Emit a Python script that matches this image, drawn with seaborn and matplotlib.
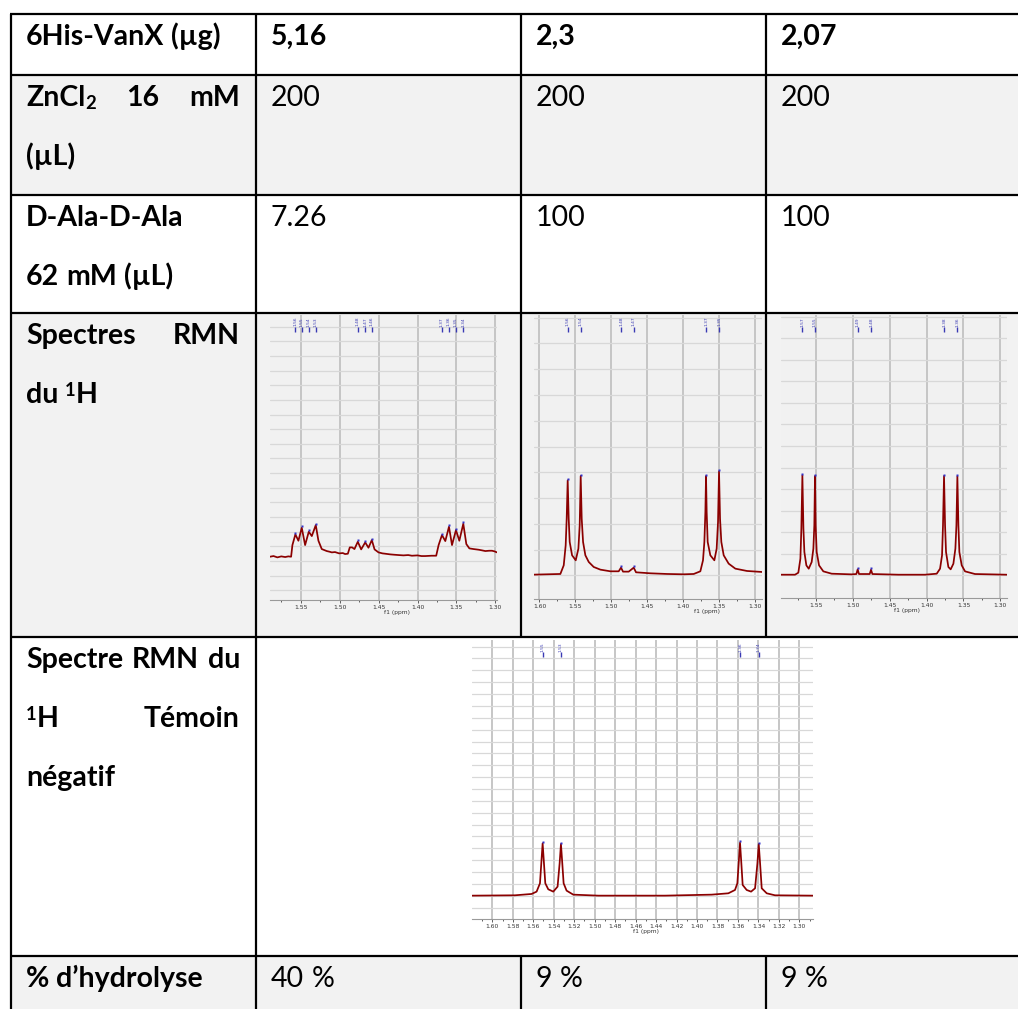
import re
import numpy as np
import matplotlib
matplotlib.use("Agg")
import matplotlib.pyplot as plt
import matplotlib.transforms as mtransforms
from matplotlib.ticker import MultipleLocator
import seaborn as sns

# ---- table contents ----
row_titles = [
    [("6His-VanX (µg)", False)],
    [("ZnCl_2 16 mM", True), ("(µL)", False)],
    [("D-Ala-D-Ala", False), ("62 mM (µL)", False)],
    [("Spectres RMN", True), ("du ^1H", False)],
    [("Spectre RMN du", True), ("^1H Témoin", True), ("négatif", False)],
    [("% d’hydrolyse", False)],
]
vanx_ug = ["5,16", "2,3", "2,07"]
zncl2_ul = ["200", "200", "200"]
dala_ul = ["7.26", "100", "100"]
hydrolyse = ["40 %", "9 %", "9 %"]

# ---- 1H NMR spectra (ppm, intensity in arbitrary units) ----
s1_ppm = [1.5895, 1.5850, 1.5800, 1.5750, 1.5700, 1.5660, 1.5624, 1.5607, 1.5569, 1.5530,
          1.5487, 1.5444, 1.5397, 1.5358, 1.5307, 1.5273, 1.5230, 1.5166, 1.5130, 1.5101,
          1.5060, 1.5007, 1.4960, 1.4930, 1.4895, 1.4870, 1.4840, 1.4810, 1.4767, 1.4724,
          1.4672, 1.4630, 1.4587, 1.4552, 1.4501, 1.4450, 1.4415, 1.4350, 1.4300, 1.4244,
          1.4180, 1.4120, 1.4072, 1.4000, 1.3950, 1.3901, 1.3820, 1.3760, 1.3729, 1.3686,
          1.3643, 1.3596, 1.3557, 1.3506, 1.3463, 1.3412, 1.3373, 1.3334, 1.3280, 1.3214,
          1.3170, 1.3129, 1.3080, 1.3043, 1.3010, 1.2979]
s1_int = [130, 132, 128, 131, 129, 131, 130, 165, 197, 178,
          217, 165, 205, 192, 225, 178, 153, 147, 145, 143,
          144, 140, 141, 138, 139, 158, 158, 153, 175, 152,
          173, 157, 180, 152, 143, 140, 139, 137, 136, 135,
          134, 135, 133, 134, 132, 132, 133, 133, 165, 195,
          177, 220, 165, 210, 178, 229, 168, 155, 153, 151,
          149, 147, 148, 148, 146, 143]
s1_pk_ppm = [1.5569, 1.5487, 1.5397, 1.5307, 1.4767, 1.4672, 1.4587, 1.3686, 1.3596, 1.3506, 1.3412]
s1_pk_int = [197, 217, 205, 225, 175, 173, 180, 195, 220, 210, 229]
s1_pk_lbl = ["1.56", "1.55", "1.54", "1.53", "1.48", "1.47", "1.46", "1.37", "1.36", "1.35", "1.34"]
s1_ticks = [1.55, 1.50, 1.45, 1.40, 1.35, 1.30]

s2_ppm = [1.6080, 1.5894, 1.5709, 1.5662, 1.5635, 1.5621, 1.5607, 1.5593, 1.5579, 1.5546,
          1.5495, 1.5458, 1.5440, 1.5426, 1.5412, 1.5393, 1.5361, 1.5314, 1.5245, 1.5152,
          1.5013, 1.4897, 1.4865, 1.4837, 1.4758, 1.4688, 1.4656, 1.4456, 1.4224, 1.3993,
          1.3853, 1.3761, 1.3724, 1.3705, 1.3691, 1.3682, 1.3673, 1.3659, 1.3622, 1.3566,
          1.3534, 1.3515, 1.3501, 1.3487, 1.3469, 1.3436, 1.3367, 1.3274, 1.3112, 1.2903]
s2_int = [74, 75, 76, 102, 162, 242, 357, 242, 172, 132,
          117, 152, 222, 370, 242, 172, 132, 112, 97, 89,
          84, 84, 95, 83, 83, 95, 81, 78, 76, 75,
          76, 84, 117, 172, 262, 370, 262, 172, 132, 117,
          152, 232, 384, 242, 172, 132, 107, 92, 85, 82]
s2_pk_ppm = [1.5607, 1.5426, 1.4865, 1.4688, 1.3682, 1.3501]
s2_pk_int = [357, 370, 95, 95, 370, 384]
s2_pk_lbl = ["1.56", "1.54", "1.48", "1.47", "1.37", "1.35"]
s2_ticks = [1.60, 1.55, 1.50, 1.45, 1.40, 1.35, 1.30]

s3_ppm = [1.5975, 1.5785, 1.5740, 1.5712, 1.5699, 1.5685, 1.5671, 1.5658, 1.5631, 1.5599,
          1.5559, 1.5536, 1.5523, 1.5514, 1.5505, 1.5491, 1.5459, 1.5401, 1.5288, 1.5016,
          1.4953, 1.4935, 1.4917, 1.4772, 1.4754, 1.4736, 1.4383, 1.4022, 1.3863, 1.3818,
          1.3791, 1.3778, 1.3764, 1.3750, 1.3737, 1.3705, 1.3674, 1.3637, 1.3610, 1.3596,
          1.3583, 1.3569, 1.3556, 1.3524, 1.3479, 1.3344, 1.2914]
s3_int = [69, 69, 75, 117, 207, 367, 207, 137, 97, 87,
          107, 147, 217, 365, 217, 137, 97, 79, 72, 70,
          71, 85, 71, 71, 84, 71, 69, 69, 72, 87,
          127, 217, 365, 217, 137, 92, 85, 102, 147, 217,
          364, 217, 137, 97, 79, 71, 69]
s3_pk_ppm = [1.5685, 1.5514, 1.4935, 1.4754, 1.3764, 1.3583]
s3_pk_int = [367, 365, 85, 84, 365, 364]
s3_pk_lbl = ["1.57", "1.55", "1.49", "1.48", "1.38", "1.36"]
s3_ticks = [1.55, 1.50, 1.45, 1.40, 1.35, 1.30]

# negative control
s4_ppm = [1.6195, 1.5779, 1.5616, 1.5567, 1.5534, 1.5521, 1.5508, 1.5495, 1.5482, 1.5453,
          1.5404, 1.5362, 1.5342, 1.5329, 1.5316, 1.5303, 1.5274, 1.5209, 1.4964, 1.4313,
          1.3857, 1.3694, 1.3629, 1.3606, 1.3593, 1.3580, 1.3567, 1.3554, 1.3515, 1.3472,
          1.3433, 1.3410, 1.3397, 1.3384, 1.3368, 1.3319, 1.3238, 1.2870]
s4_int = [71, 72, 76, 83, 108, 168, 228, 168, 108, 90,
          83, 98, 168, 226, 168, 108, 86, 74, 71, 71,
          74, 78, 88, 108, 168, 230, 168, 103, 88, 83,
          93, 168, 226, 168, 93, 78, 72, 71]
s4_pk_ppm = [1.5508, 1.5329, 1.3580, 1.3397]
s4_pk_int = [228, 226, 230, 226]
s4_pk_lbl = ["1.55", "1.53", "1.36", "1.34"]
s4_ticks = [1.60, 1.58, 1.56, 1.54, 1.52, 1.50, 1.48, 1.46, 1.44, 1.42,
            1.40, 1.38, 1.36, 1.34, 1.32, 1.30]

sns.set_theme(style="white")
plt.rcParams["font.family"] = ["Lato", "DejaVu Sans"]

W, H = 1018, 1009
fig = plt.figure(figsize=(W / 100, H / 100), dpi=100)
tab = fig.add_axes([0, 0, 1, 1])
tab.set_xlim(0, W)
tab.set_ylim(H, 0)
tab.axis("off")
renderer = fig.canvas.get_renderer()

col_x = [11, 256, 521, 766, W]
row_y = [14, 75, 195, 313, 637, 956, H]
gray = "#f2f2f2"

for r in (1, 3, 5):
    tab.fill_between([col_x[0], W], row_y[r], row_y[r + 1], color=gray, lw=0, zorder=0)


def text_w(s, fs, weight):
    t = tab.text(0, 0, s, fontsize=fs, fontweight=weight)
    w = t.get_window_extent(renderer).width
    t.remove()
    return w


def parse(word):
    runs = []
    for part in re.split(r"([_^]\w)", word):
        if not part:
            continue
        if part[0] == "_":
            runs.append((part[1:], "sub"))
        elif part[0] == "^":
            runs.append((part[1:], "sup"))
        else:
            runs.append((part, ""))
    return runs


FS = 20 * 195 / text_w("6His-VanX (µg)", 20, "bold")
EM = FS * 100 / 72


def draw_line(x0, y, text, weight, justify=False, x1=240):
    words = [parse(w) for w in text.split(" ")]
    sizes = lambda k: FS * 0.65 if k else FS
    ws = [sum(text_w(t, sizes(k), weight) for t, k in runs) for runs in words]
    if justify and len(words) > 1:
        gap = (x1 - x0 - sum(ws)) / (len(words) - 1)
    else:
        gap = text_w("n n", FS, weight) - text_w("nn", FS, weight)
    x = x0
    for runs, w in zip(words, ws):
        cx = x
        for t, k in runs:
            dy = {"": 0, "sub": 0.10, "sup": -0.24}[k] * EM
            tab.text(cx, y + dy, t, fontsize=sizes(k), fontweight=weight,
                     va="baseline", ha="left", color="black")
            cx += text_w(t, sizes(k), weight)
        x += w + gap


# row titles
for r, lines in enumerate(row_titles):
    for i, (txt, just) in enumerate(lines):
        draw_line(col_x[0] + 15, row_y[r] + 31 + 59 * i, txt, "bold", just)

# values
for r, vals, wt in [(0, vanx_ug, "bold"), (1, zncl2_ul, "normal"),
                    (2, dala_ul, "normal"), (5, hydrolyse, "normal")]:
    for c, v in enumerate(vals):
        draw_line(col_x[c + 1] + 15, row_y[r] + 31, v, wt)

# borders
lw = 1.6
for y in row_y[:-1]:
    tab.plot([col_x[0] - 1, W], [y, y], color="black", lw=lw, solid_capstyle="butt")
for x in col_x[:2]:
    tab.plot([x, x], [row_y[0], H], color="black", lw=lw, solid_capstyle="butt")
for x in col_x[2:4]:
    tab.plot([x, x], [row_y[0], row_y[4]], color="black", lw=lw, solid_capstyle="butt")
    tab.plot([x, x], [row_y[5], H], color="black", lw=lw, solid_capstyle="butt")


def draw_spectrum(box, xlim, ylim, grid0, gstep, ppm, inten, pk_ppm, pk_int, pk_lbl,
                  ticks, minor, xlab_frac, bg):
    l, t, r, b = box
    h = b - t
    ax = fig.add_axes([l / W, 1 - b / H, (r - l) / W, h / H])
    ax.set_facecolor(bg)
    sns.lineplot(x=ppm, y=inten, ax=ax, color="#8b0000", linewidth=1.25,
                 estimator=None, sort=False, zorder=2)
    ax.set_xlim(*xlim)
    ax.set_ylim(*ylim)
    ax.set_xticks(ticks)
    ax.set_xticklabels([f"{v:.2f}" for v in ticks], fontsize=4.3,
                       family="DejaVu Sans", color="#333333")
    ax.xaxis.set_minor_locator(MultipleLocator(minor))
    ax.set_yticks(np.arange(grid0, ylim[1], gstep))
    ax.tick_params(axis="y", left=False, labelleft=False)
    ax.tick_params(axis="x", which="both", direction="out", color="#444444",
                   width=0.6, pad=1, bottom=True)
    ax.tick_params(axis="x", which="major", length=2.5)
    ax.tick_params(axis="x", which="minor", length=1.5)
    ax.grid(True, axis="x", which="major", color="#c2c2c2", lw=1.3)
    ax.grid(True, axis="y", which="major", color="#d8d8d8", lw=0.9)
    ax.set_axisbelow(True)
    for s in ("top", "left", "right"):
        ax.spines[s].set_visible(False)
    ax.spines["bottom"].set_color("#9a9a9a")
    ax.spines["bottom"].set_linewidth(0.8)
    ax.set_ylabel("")
    ax.set_xlabel("f1 (ppm)", fontsize=4.3, family="DejaVu Sans", color="#333333")
    ax.xaxis.set_label_coords(xlab_frac, -10 / h)
    off = mtransforms.offset_copy(ax.transData, fig=fig, y=1.3, units="dots")
    ax.plot(pk_ppm, pk_int, "s", ms=1.7, color="#3232c8", mec="none",
            transform=off, zorder=3)
    tr = ax.get_xaxis_transform()
    for p, lab in zip(pk_ppm, pk_lbl):
        ax.text(p, 1 - 2 / h, lab, transform=tr, rotation=90, ha="center", va="top",
                fontsize=3.1, family="DejaVu Sans", color="#3a3ab4")
        ax.plot([p, p], [1 - 12 / h, 1 - 17 / h], transform=tr, color="#3a3ab4",
                lw=1.0, solid_capstyle="butt")
    return ax


draw_spectrum((270, 315, 497, 600), (1.5895, 1.2979), (0, 856), 29, 44,
              s1_ppm, s1_int, s1_pk_ppm, s1_pk_int, s1_pk_lbl, s1_ticks, 0.025, 0.56, "#f1f1f1")
draw_spectrum((533.7, 314.7, 762, 599.3), (1.6080, 1.2903), (0, 854), 72, 77.3,
              s2_ppm, s2_int, s2_pk_ppm, s2_pk_int, s2_pk_lbl, s2_ticks, 0.025, 0.76, "#f1f1f1")
draw_spectrum((781, 315.3, 1006.7, 597.7), (1.5975, 1.2914), (0, 847), 67, 64.7,
              s3_ppm, s3_int, s3_pk_ppm, s3_pk_int, s3_pk_lbl, s3_ticks, 0.025, 0.56, "#f1f1f1")
draw_spectrum((472.3, 640, 812.7, 919.3), (1.6195, 1.2870), (0, 838), 35, 35.6,
              s4_ppm, s4_int, s4_pk_ppm, s4_pk_int, s4_pk_lbl, s4_ticks, 0.01, 0.51, "white")

fig.savefig("out.png", dpi=100)
